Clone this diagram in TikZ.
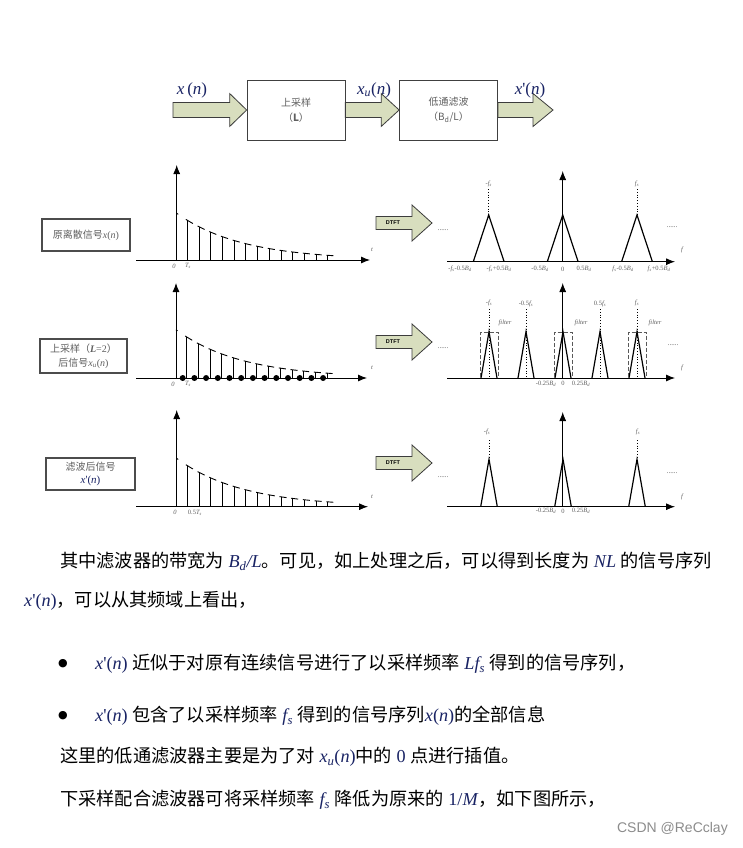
\documentclass[tikz,border=0pt]{standalone}
\usepackage{fontspec}
\setmainfont{Liberation Serif}
\newfontfamily\cjk{Noto Sans CJK SC}
\newfontfamily\lsans{Liberation Sans}
\newfontfamily\djv{DejaVu Sans}
\usetikzlibrary{arrows.meta,calc}
\definecolor{arrowfill}{RGB}{216,222,190}
\definecolor{arrowline}{RGB}{60,60,60}
\definecolor{mathc}{RGB}{25,35,100}
\definecolor{labc}{RGB}{95,95,95}
\newcommand{\mth}[1]{{\color{mathc}\itshape #1}}
\newcommand{\xpn}{{\color{mathc}\textit{x}\textquotesingle(\textit{n})}}
\newcommand{\blkarrow}[5]{%
  \filldraw[blockarrow] let \p1=#1, \p2=#2 in
   (\x1,\y1+#3) -- (\x2-#5,\y1+#3) -- (\x2-#5,\y1+#4) -- (\x2,\y1)
   -- (\x2-#5,\y1-#4) -- (\x2-#5,\y1-#3) -- (\x1,\y1-#3) -- cycle;}
\newcommand{\stemplot}[3]{%
  \foreach \k in {0,...,12}{
    \pgfmathsetmacro\xs{#1+10.7+11.7*\k}
    \pgfmathsetmacro\hs{#3*exp(-(\xs-#1)/65.7)}
    \draw[stemline] (\xs,#2) -- (\xs,#2-\hs);
    \draw[stemline] plot[domain=\xs-1.5:\xs+5.5,samples=4] (\x,{#2-#3*exp(-(\x-#1)/65.7)});
  }
  \draw[stemline] (#1,#2-#3) -- (#1+1.5,{#2-#3*exp(-1.5/65.7)});
}
\newcommand{\tri}[4]{\draw[triline] (#1-#3,#2) -- (#1,#2-#4) -- (#1+#3,#2);}
\begin{document}
\begin{tikzpicture}[x=1pt,y=-1pt,
  blockarrow/.style={fill=arrowfill,draw=arrowline,line width=0.8pt,line join=miter},
  blockbox/.style={draw=black!75,line width=0.7pt,minimum width=98pt,minimum height=60pt,inner sep=0pt,
     align=center,text=labc,font=\cjk\fontsize{10}{15}\selectfont},
  toplab/.style={inner sep=0pt,text=mathc,font=\fontsize{17}{17}\selectfont},
  labbox/.style={draw=black!70,line width=1.2pt,inner sep=0pt,align=center,text=labc,
     font=\cjk\fontsize{10}{14}\selectfont},
  axis/.style={line width=0.9pt,-{Latex[length=9pt,width=7pt]}},
  stemline/.style={line width=0.9pt},
  triline/.style={line width=1.2pt},
  tick/.style={inner sep=0pt,text=labc,font=\itshape\fontsize{6.5}{6.5}\selectfont},
  dtft/.style={inner sep=0pt,font=\lsans\bfseries\fontsize{5.5}{6}\selectfont},
  dots/.style={inner sep=0pt,font=\fontsize{7}{7}\selectfont,text=black!70},
  vdot/.style={dotted,line width=0.8pt},
  fbox/.style={dashed,dash pattern=on 4pt off 2pt,line width=1pt,draw=black!65},
  para/.style={inner sep=0pt,anchor=west,font=\fontsize{18.2}{22}\selectfont}]
\useasboundingbox (0,0) rectangle (743,848);
\fill[white] (0,0) rectangle (743,848);

% ---------- top block diagram ----------
\node[blockbox] (up) at (296,110) {上采样\\（\textit{\textbf{L}}）};
\node[blockbox] (lp) at (448.5,110) {低通滤波\\（\textit{B}\textsubscript{\textit{d}}/\textit{L}）};
\coordinate (in) at (173,110);
\coordinate (out) at (553,110);
\blkarrow{(in)}{(up.west)}{7.5pt}{16.5pt}{17pt}
\blkarrow{(up.east)}{(lp.west)}{7.5pt}{16.5pt}{18pt}
\blkarrow{(lp.east)}{(out)}{7.5pt}{16.5pt}{20pt}
\node[toplab] (lx) at (192,90) {\textit{x}\,(\textit{n})};
\node[toplab] (lxu) at (374,90) {\textit{x}\textsubscript{\textit{u}}(\textit{n})};
\node[toplab] (lxp) at (530,90) {\textit{x}\textquotesingle(\textit{n})};

% ---------- row 1 ----------
\node[labbox,minimum width=88pt,minimum height=32pt] (b1) at (86,235) {原离散信号\textrm{\textit{x}(\textit{n})}};
\draw[axis] (136,260) -- (370,260);
\draw[axis] (176.7,260) -- (176.7,165);
\stemplot{176.7}{260}{46.7}
\node[tick] (r1z) at (174,266) {0};
\node[tick] (r1t) at (188,266) {T\textsubscript{s}};
\node[tick] (r1tl) at (372,250) {t};

\coordinate (d1a) at (376,223);
\coordinate (d1b) at (432,223);
\blkarrow{(d1a)}{(d1b)}{6.5pt}{18pt}{20pt}
\node[dtft] (d1t) at (393,223) {DTFT};
\node[dots] (r1dl) at (443,230) {......};
\node[dots] (r1dr) at (672,227) {......};
\draw[axis] (447,261.7) -- (675,261.7);
\draw[axis] (562.7,261.7) -- (562.7,171);
\tri{488.7}{261.7}{15.4}{46.7}
\tri{562.7}{261.7}{15.4}{46.7}
\tri{637}{261.7}{15.4}{46.7}
\draw[vdot] (488.7,189) -- (488.7,215);
\draw[vdot] (637,189) -- (637,215);
\node[tick] (r1f1) at (488.7,184) {-f\textsubscript{s}};
\node[tick] (r1f2) at (637,184) {f\textsubscript{s}};
\node[tick] (r1fl) at (682,250) {f};
\node[tick] (t1a) at (460,269) {-f\textsubscript{s}\upshape-0.5\itshape B\textsubscript{d}};
\node[tick] (t1b) at (499,269) {-f\textsubscript{s}\upshape+0.5\itshape B\textsubscript{d}};
\node[tick] (t1c) at (540,269) {\upshape-0.5\itshape B\textsubscript{d}};
\node[tick] (t1d) at (562.7,269) {\upshape 0};
\node[tick] (t1e) at (584,269) {\upshape 0.5\itshape B\textsubscript{d}};
\node[tick] (t1f) at (623,269) {f\textsubscript{s}\upshape-0.5\itshape B\textsubscript{d}};
\node[tick] (t1g) at (659,269) {f\textsubscript{s}\upshape+0.5\itshape B\textsubscript{d}};

% ---------- row 2 ----------
\node[labbox,minimum width=87pt,minimum height=34pt] (b2) at (83.5,356) {上采样（\textrm{\textit{\textbf{L}}=2}）\\后信号\textrm{\textit{x}\textsubscript{\textit{u}}(\textit{n})}};
\draw[axis] (136,378) -- (367,378);
\draw[axis] (176,378) -- (176,283);
\stemplot{176}{378}{48.3}
\foreach \k in {0,...,12}{\fill ({182.7+11.7*\k},378) circle (3pt);}
\node[tick] (r2z) at (173,384) {0};
\node[tick] (r2t) at (188,384) {T\textsubscript{s}};
\node[tick] (r2tl) at (372,368) {t};

\coordinate (d2a) at (376,342);
\coordinate (d2b) at (432,342);
\blkarrow{(d2a)}{(d2b)}{6.5pt}{18pt}{20pt}
\node[dtft] (d2t) at (393,342) {DTFT};
\node[dots] (r2dl) at (443,348) {......};
\node[dots] (r2dr) at (673,345) {......};
\draw[axis] (447,378) -- (675,378);
\draw[axis] (562.7,378) -- (562.7,283);
\foreach \c in {489,526,600,637}{\draw[vdot] (\c,309) -- (\c,378);}
\foreach \c in {489,526,563,600,637}{\tri{\c}{378}{8}{46.3}}
\foreach \c in {489,563,637}{\draw[fbox] (\c-8.5,377) -- (\c-8.5,332) -- (\c+9,332) -- (\c+9,377);}
\node[tick] (r2f1) at (489,303) {-f\textsubscript{s}};
\node[tick] (r2f2) at (526,304) {\upshape-0.5\itshape f\textsubscript{s}};
\node[tick] (r2f3) at (600,304) {\upshape0.5\itshape f\textsubscript{s}};
\node[tick] (r2f4) at (637,303) {f\textsubscript{s}};
\node[tick] (fl1) at (505,323) {filter};
\node[tick] (fl2) at (581,323) {filter};
\node[tick] (fl3) at (655,323) {filter};
\node[tick] (r2fl) at (682,368) {f};
\node[tick] (t2a) at (546,383.5) {\upshape-0.25\itshape B\textsubscript{d}};
\node[tick] (t2b) at (563,383.5) {\upshape 0};
\node[tick] (t2c) at (581,383.5) {\upshape 0.25\itshape B\textsubscript{d}};

% ---------- row 3 ----------
\node[labbox,minimum width=89pt,minimum height=32pt] (b3) at (90.5,474) {滤波后信号\\[-1pt]\textrm{\fontsize{11}{12}\selectfont\xpn}};
\draw[axis] (136,506.7) -- (368,506.7);
\draw[axis] (176.7,506.7) -- (176.7,410);
\stemplot{176.7}{506.7}{48.3}
\node[tick] (r3z) at (175,512.5) {0};
\node[tick] (r3t) at (195,512.5) {\upshape0.5\itshape T\textsubscript{s}};
\node[tick] (r3tl) at (372,497) {t};

\coordinate (d3a) at (376,463);
\coordinate (d3b) at (432,463);
\blkarrow{(d3a)}{(d3b)}{6.5pt}{18pt}{20pt}
\node[dtft] (d3t) at (393,463) {DTFT};
\node[dots] (r3dl) at (443,477) {......};
\node[dots] (r3dr) at (672,473) {......};
\draw[axis] (447,506.7) -- (675,506.7);
\draw[axis] (562.7,506.7) -- (562.7,412);
\foreach \c in {489,563,637}{\tri{\c}{506.7}{8.3}{47.4}}
\draw[vdot] (489,440) -- (489,459);
\draw[vdot] (637,440) -- (637,459);
\node[tick] (r3f1) at (487,432) {-f\textsubscript{s}};
\node[tick] (r3f2) at (638,432) {f\textsubscript{s}};
\node[tick] (r3fl) at (682,497) {f};
\node[tick] (t3a) at (546,511) {\upshape-0.25\itshape B\textsubscript{d}};
\node[tick] (t3b) at (563,511) {\upshape 0};
\node[tick] (t3c) at (581,511) {\upshape 0.25\itshape B\textsubscript{d}};

% ---------- text ----------
\node[para] (p1) at (60,561) {{\cjk 其中滤波器的带宽为} \mth{B\textsubscript{d}/L}{\cjk 。可见，如上处理之后，可以得到长度为} \mth{NL} {\cjk 的信号序列}};
\node[para] (p2) at (24,601) {\xpn{\cjk ，可以从其频域上看出，}};
\node[para,font=\djv\fontsize{11}{12}\selectfont] (bu1) at (58,664) {●};
\node[para] (p3) at (95,664) {\xpn{} {\cjk 近似于对原有连续信号进行了以采样频率} \mth{Lf\textsubscript{s}} {\cjk 得到的信号序列，}};
\node[para,font=\djv\fontsize{11}{12}\selectfont] (bu2) at (58,716) {●};
\node[para] (p4) at (95,716) {\xpn{} {\cjk 包含了以采样频率} \mth{f\textsubscript{s}} {\cjk 得到的信号序列}{\color{mathc}\textit{x}(\textit{n})}{\cjk 的全部信息}};
\node[para] (p5) at (60,757) {{\cjk 这里的低通滤波器主要是为了对} {\color{mathc}\textit{x}\textsubscript{\textit{u}}(\textit{n})}{\cjk 中的} {\color{mathc}0} {\cjk 点进行插值。}};
\node[para] (p6) at (60,800) {{\cjk 下采样配合滤波器可将采样频率} \mth{f\textsubscript{s}} {\cjk 降低为原来的} {\color{mathc}1/\textit{M}}{\cjk ，如下图所示，}};
\node[inner sep=0pt,anchor=east,text=black!45,font=\lsans\fontsize{14}{14}\selectfont] (csdn) at (728,829) {CSDN @ReCclay};
\end{tikzpicture}
\end{document}
